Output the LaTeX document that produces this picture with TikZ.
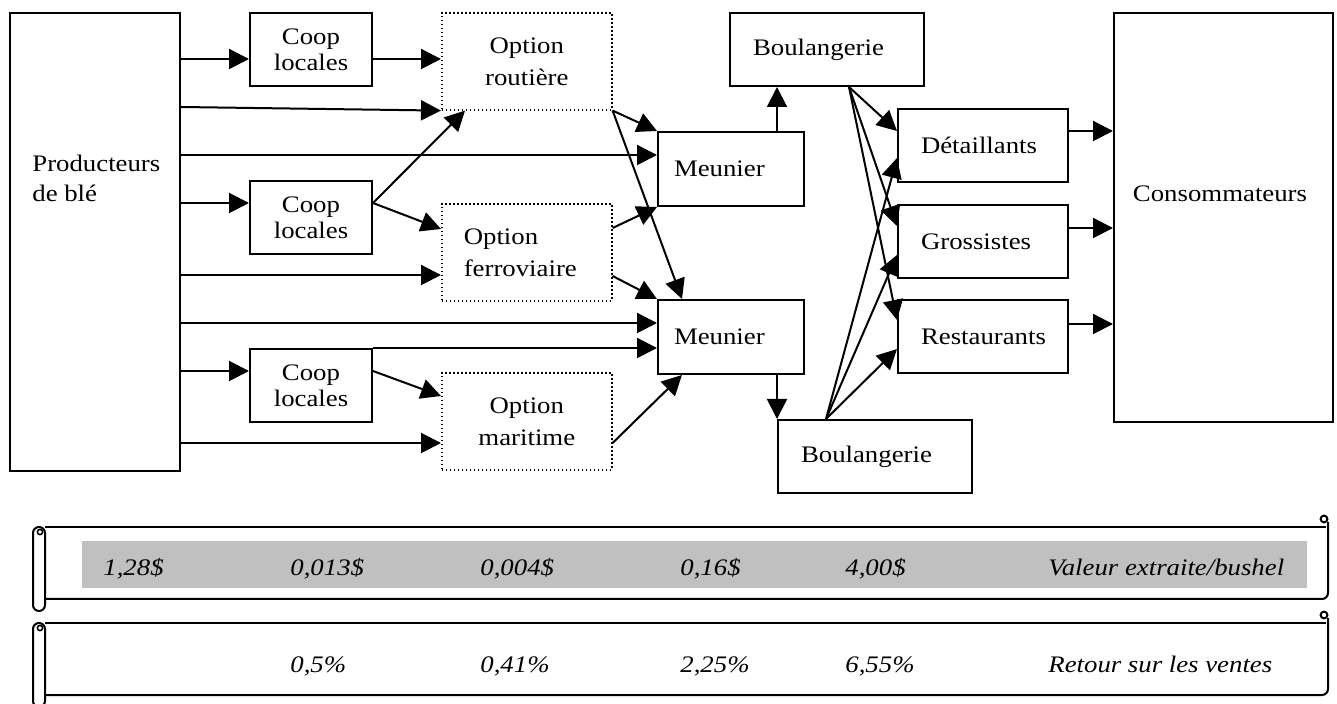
\documentclass[tikz,border=0pt]{standalone}
\usepackage{fontspec}
\setmainfont{Liberation Serif}[FakeStretch=1.13]
\usetikzlibrary{arrows.meta}

\definecolor{scrollgray}{HTML}{C0C0C0}
\tikzset{
  cell/.style={draw, line width=1pt, rectangle, inner sep=0pt, anchor=north west,
    font=\fontsize{11.85}{15}\selectfont},
  coop/.style={cell, align=center, minimum width=61pt, minimum height=36.5pt,
    font=\fontsize{11.85}{13}\selectfont},
  opt/.style={cell, line width=0.8pt, dash pattern=on 0.8pt off 1.2pt, align=center,
    minimum width=85pt, minimum height=48.5pt, font=\fontsize{11.85}{16}\selectfont},
  lbl/.style={inner sep=0pt, font=\fontsize{11.85}{15}\selectfont},
  val/.style={anchor=base west, inner sep=0pt, font=\fontsize{11.85}{14}\selectfont\itshape},
  flow/.style={->, line width=1pt},
}

\begin{document}
\begin{tikzpicture}[x=0.5pt, y=-0.5pt, >={Triangle[length=10pt, width=10pt]}]
\useasboundingbox (0,0) rectangle (1337,704);

% producteurs et consommateurs
\node [cell, minimum width=85pt, minimum height=229pt] (prod) at (9,12) {};
\node [lbl, anchor=base west, align=left] (prodtxt) at (32,202) {Producteurs\\de blé};
\node [cell, minimum width=109.5pt, minimum height=204.5pt] (cons) at (1113,12) {};
\node [lbl, anchor=base] (constxt) at (1220,202) {Consommateurs};

% cooperatives
\node [coop] (coop1) at (249,12) {Coop\\locales};
\node [coop] (coop2) at (249,180) {Coop\\locales};
\node [coop] (coop3) at (249,348) {Coop\\locales};

% options de transport
\node [opt] (rout) at (441,12) {Option\\routière};
\node [opt, align=left, text width=63pt] (ferr) at (441,203) {Option\\ferroviaire};
\node [opt] (mari) at (441,372) {Option\\maritime};

% meuniers, boulangeries
\node [cell, minimum width=73pt, minimum height=37pt, text width=57pt, align=left] (mun1) at (657,131) {Meunier};
\node [cell, minimum width=73pt, minimum height=37pt, text width=57pt, align=left] (mun2) at (657,299) {Meunier};
\node [cell, minimum width=97pt, minimum height=36.5pt, text width=74pt, align=left] (bou1) at (729,12) {Boulangerie};
\node [cell, minimum width=97pt, minimum height=36.5pt, text width=74pt, align=left] (bou2) at (777,419) {Boulangerie};

% distribution
\node [cell, minimum width=85pt, minimum height=36.5pt, text width=62pt, align=left] (det) at (897,108) {Détaillants};
\node [cell, minimum width=85pt, minimum height=36.5pt, text width=62pt, align=left] (gros) at (897,204) {Grossistes};
\node [cell, minimum width=85pt, minimum height=36.5pt, text width=62pt, align=left] (rest) at (897,299) {Restaurants};

\path [flow]
(prod.east |- 0,59) edge (coop1.west |- 0,59)
(coop1.east |- 0,59) edge (rout.west |- 0,59)
(prod.east |- 0,107) edge (rout.south west)
(prod.east |- 0,155) edge (mun1.west |- 0,155)
(prod.east |- 0,203) edge (coop2.west |- 0,203)
(coop2.east |- 0,203) edge ([xshift=12pt]rout.south west)
                      edge (ferr.west |- 0,229)
(prod.east |- 0,275) edge (ferr.west |- 0,275)
(prod.east |- 0,323) edge (mun2.west |- 0,323)
(prod.east |- 0,371) edge (coop3.west |- 0,371)
(coop3.north east) edge (mun2.west |- coop3.north east)
(coop3.east |- 0,371) edge (mari.west |- 0,396)
(prod.east |- 0,443) edge (mari.west |- 0,443);

\path [flow]
(rout.south east) edge (mun1.north west)
                  edge ([xshift=12.5pt]mun2.north west)
(ferr.east |- 0,228) edge (mun1.south west)
(ferr.east |- 0,276) edge (mun2.north west)
(mari.east |- 0,443) edge ([xshift=12.5pt]mun2.south west)
(mun1.north -| 777,0) edge (bou1.south -| 777,0)
(mun2.south -| 777,0) edge (bou2.north west);

\path [flow]
(bou1.south -| 849,0) edge (det.west |- 0,131)
                      edge (gros.west |- 0,226)
                      edge (rest.west |- 0,320)
(bou2.north -| 826,0) edge (det.west |- 0,158)
                      edge (gros.west |- 0,255)
                      edge (rest.west |- 0,349)
(det.east |- 0,131) edge (cons.west |- 0,131)
(gros.east |- 0,228) edge (cons.west |- 0,228)
(rest.east |- 0,324) edge (cons.west |- 0,324);

% parchemins
\fill [scrollgray] (82,541) rectangle (1307,588);
\foreach \dy in {0,96} {
  \begin{scope}[shift={(0,\dy)}, line width=1pt]
    \draw (45,527) -- (1326,527);
    \draw [rounded corners=3pt] (45,599) -- (1328,599) -- (1328,522);
    \draw (1324,519) circle [radius=1.7pt];
    \draw [fill=white] (33,605) -- (33,533) arc [start angle=180, end angle=0, radius=3pt]
      -- (45,605) arc [start angle=0, end angle=-180, radius=3pt] -- cycle;
    \draw [line width=0.8pt] (40,532) circle [radius=1.3pt];
  \end{scope}
}

\node [val] (val1) at (103,575) {1,28\$};
\node [val] (val2) at (290,575) {0,013\$};
\node [val] (val3) at (480,575) {0,004\$};
\node [val] (val4) at (680,575) {0,16\$};
\node [val] (val5) at (845,575) {4,00\$};
\node [val] (val6) at (1048,575) {Valeur extraite/bushel};

\node [val] (ret1) at (290,672) {0,5\%};
\node [val] (ret2) at (480,672) {0,41\%};
\node [val] (ret3) at (680,672) {2,25\%};
\node [val] (ret4) at (845,672) {6,55\%};
\node [val] (ret5) at (1048,672) {Retour sur les ventes};
\end{tikzpicture}
\end{document}
